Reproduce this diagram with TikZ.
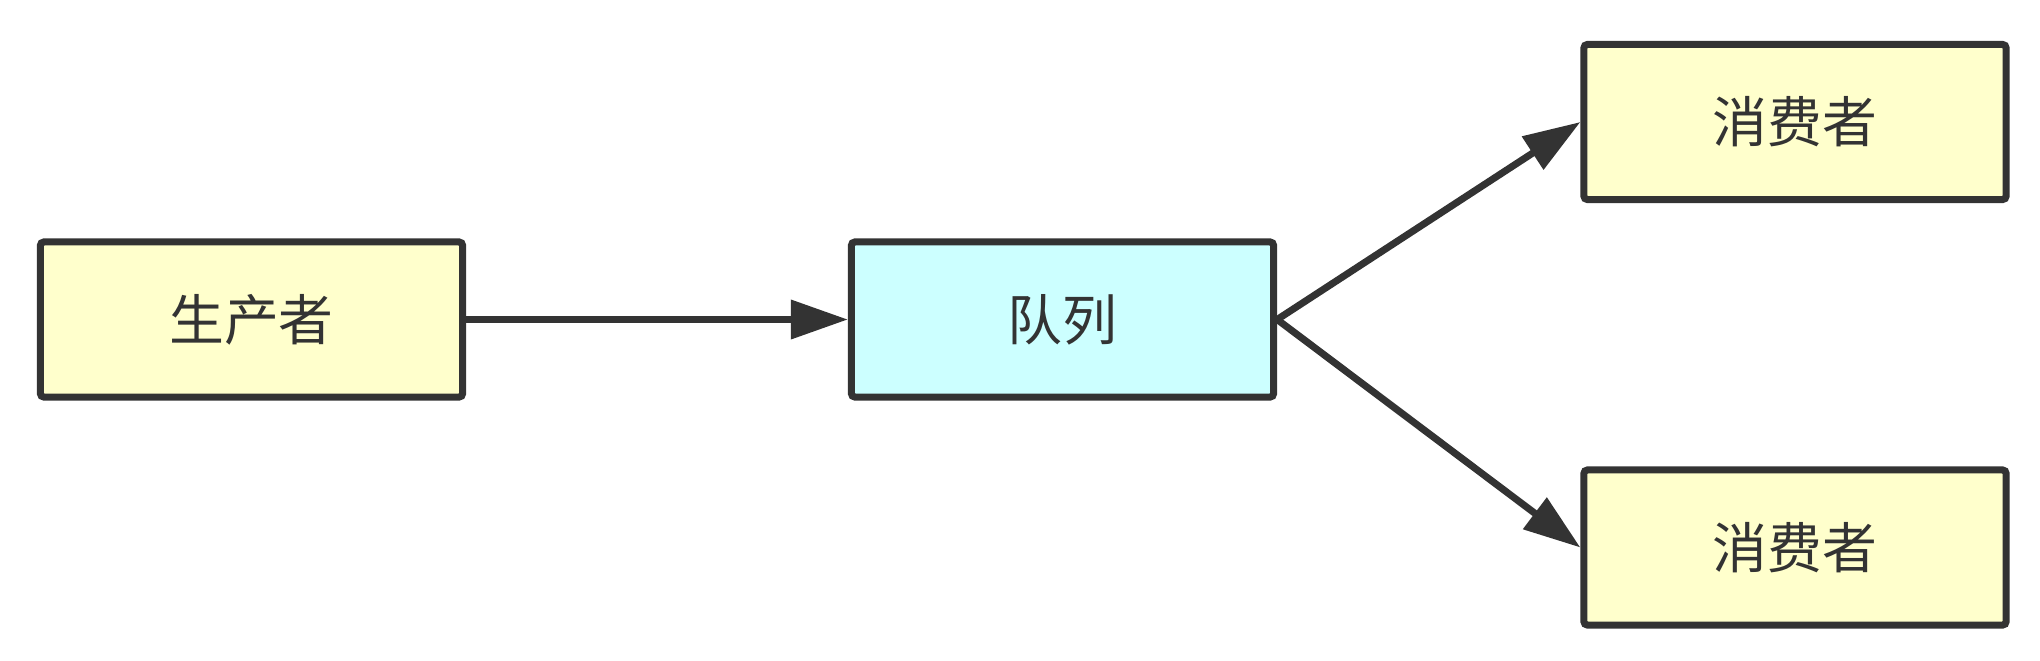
\documentclass[tikz,border=0pt]{standalone}
\usepackage{fontspec}
\newfontfamily\cjkfont{Noto Sans CJK SC}
\usetikzlibrary{arrows.meta}
\definecolor{linecol}{RGB}{51,51,51}
\definecolor{prodcol}{RGB}{255,255,204}
\definecolor{queuecol}{RGB}{204,255,255}

\begin{document}
\begin{tikzpicture}[x=0.01cm, y=-0.01cm,
    box/.style={draw=linecol, line width=2pt, rounded corners=1pt, minimum width=4.22cm, minimum height=1.55cm, inner sep=0pt, text=linecol, font=\cjkfont\fontsize{15.6pt}{18pt}\selectfont},
    flow/.style={draw=linecol, line width=2pt, -{Triangle[length=5.7mm, width=3.8mm]}}]

    \useasboundingbox (0,0) rectangle (2040,660);

    % boxes
    \node[box, fill=prodcol] (producer) at (251.5, 319.5) {生产者};
    \node[box, fill=queuecol] (queue) at (1062.5, 319.5) {队列};
    \node[box, fill=prodcol] (consumer1) at (1795, 122) {消费者};
    \node[box, fill=prodcol] (consumer2) at (1795, 547.5) {消费者};

    \draw[flow] (producer.east) -- (queue.west);
    \draw[flow] (queue.east) -- (consumer1.west);
    \draw[flow] (queue.east) -- (consumer2.west);

\end{tikzpicture}
\end{document}
